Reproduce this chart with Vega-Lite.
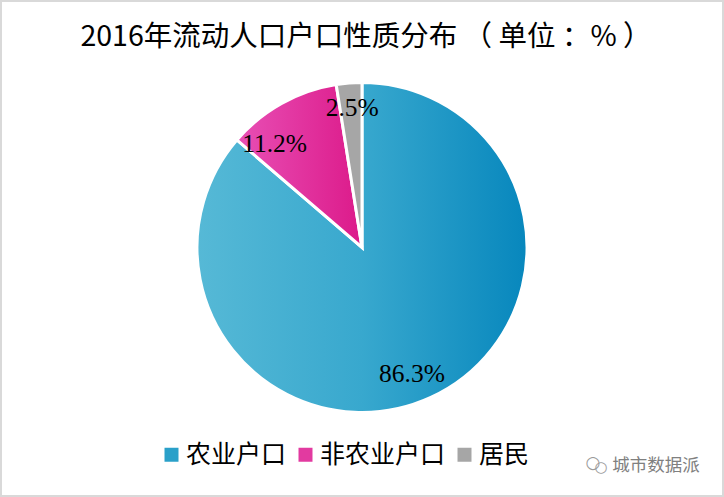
{
"$schema":"https://vega.github.io/schema/vega-lite/v6.json",
"width":724,"height":497,"padding":0,"autosize":{"type":"none"},
"background":"white",
"view":{"stroke":"#d9d9d9","strokeWidth":4,"fill":"white"},
"config":{"font":"Noto Sans CJK SC"},
"title":{"text":"2016年流动人口户口性质分布 （ 单位 ：% ）","font":"Noto Sans CJK SC","fontSize":28.5,"fontWeight":"normal","color":"#000000","anchor":"middle","offset":-51,"dx":4},
"data":{"values":[
{"type":"农业户口","share":86.3,"rank":1,"label":"86.3%"},
{"type":"非农业户口","share":11.2,"rank":2,"label":"11.2%"},
{"type":"居民","share":2.5,"rank":3,"label":"2.5%"}
]},
"transform":[{"stack":"share","groupby":[],"sort":[{"field":"rank","order":"ascending"}],"as":["s0","s1"]}],
"layer":[
{"mark":{"type":"arc","radius":165,"stroke":"white","strokeWidth":3,"yOffset":-1},
"encoding":{
"theta":{"field":"s0","type":"quantitative","scale":{"domain":[0,100]},"stack":false},
"theta2":{"field":"s1"},
"fill":{
"condition":[
{"test":"datum.rank==1","value":{"gradient":"linear","x1":0,"y1":0,"x2":1,"y2":0,"stops":[{"offset":0,"color":"#56b9d6"},{"offset":0.5,"color":"#38a8ce"},{"offset":1,"color":"#0787bd"}]}},
{"test":"datum.rank==2","value":{"gradient":"linear","x1":0,"y1":0,"x2":1,"y2":0,"stops":[{"offset":0,"color":"#e84fb5"},{"offset":1,"color":"#dc1a8a"}]}}
],
"field":"type","type":"nominal","sort":["农业户口","非农业户口","居民"],
"scale":{"domain":["农业户口","非农业户口","居民"],"range":["#2aa0c9","#e23aa0","#a6a6a6"]},
"legend":{"orient":"none","direction":"horizontal","title":null,"legendX":159,"legendY":442,"symbolType":"square","symbolSize":196,"symbolStrokeWidth":0,"symbolOffset":0,"labelFont":"Noto Sans CJK SC","labelFontSize":25,"labelColor":"#000000","labelOffset":2,"columnPadding":6,"labelLimit":200,
"encode":{"symbols":{"update":{"fill":[
{"test":"datum.value=='农业户口'","value":{"gradient":"linear","x1":0,"y1":0,"x2":1,"y2":0,"stops":[{"offset":0,"color":"#56b9d6"},{"offset":1,"color":"#1b93c4"}]}},
{"test":"datum.value=='非农业户口'","value":{"gradient":"linear","x1":0,"y1":0,"x2":1,"y2":0,"stops":[{"offset":0,"color":"#e84fb5"},{"offset":1,"color":"#dc2a98"}]}},
{"value":"#a6a6a6"}
]}}}}
},
"order":{"field":"rank"}
}},
{"transform":[{"filter":"datum.rank==1"}],"mark":{"type":"text","font":"Liberation Serif","fontSize":25.5,"color":"#000000","radius":135,"dx":50,"dy":260},
"encoding":{"theta":{"field":"s0","type":"quantitative","scale":{"domain":[0,100]},"stack":false},"text":{"field":"label"}}},
{"transform":[{"filter":"datum.rank==2"}],"mark":{"type":"text","font":"Liberation Serif","fontSize":25.5,"color":"#000000","radius":135,"dx":15,"dy":-17},
"encoding":{"theta":{"field":"s0","type":"quantitative","scale":{"domain":[0,100]},"stack":false},"text":{"field":"label"}}},
{"transform":[{"filter":"datum.rank==3"}],"mark":{"type":"text","font":"Liberation Serif","fontSize":25.5,"color":"#000000","radius":139,"dx":12,"dy":-3},
"encoding":{"theta":{"field":"s0","type":"quantitative","scale":{"domain":[0,100]},"stack":false},"text":{"field":"label"}}},
{"transform":[{"filter":"datum.rank==1"}],"mark":{"type":"text","text":"城市数据派","font":"Noto Sans CJK SC","fontSize":17.5,"color":"#808080","dx":294,"dy":217},"encoding":{}},
{"transform":[{"filter":"datum.rank==1"}],"mark":{"type":"text","text":"○","font":"DejaVu Sans","fontSize":17,"color":"#9a9a9a","dx":231,"dy":214},"encoding":{}},
{"transform":[{"filter":"datum.rank==1"}],"mark":{"type":"text","text":"○","font":"DejaVu Sans","fontSize":15,"color":"#9a9a9a","dx":239,"dy":218},"encoding":{}}
]
}
